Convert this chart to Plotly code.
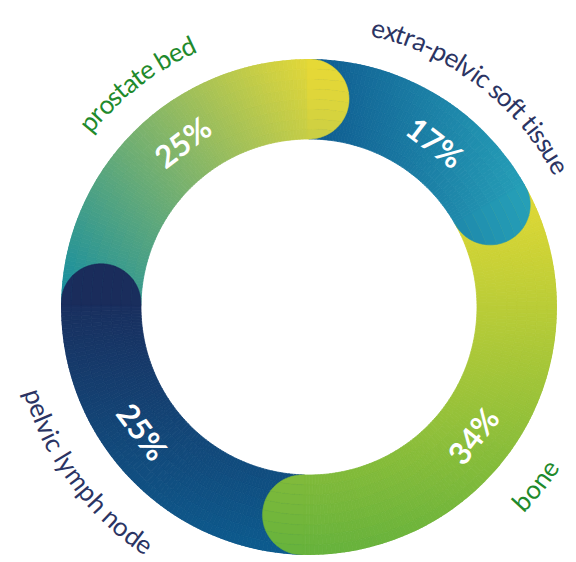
import math
import numpy as np
import plotly.graph_objects as go

# ---- data -------------------------------------------------------------
categories = ["extra-pelvic soft tissue", "bone", "pelvic lymph node", "prostate bed"]
shares = [17, 34, 25, 25]
pct_labels = [f"{v}%" for v in shares]

# ---- styling ----------------------------------------------------------
grad_start = ["#0f5a90", "#e2d935", "#1b2857", "#168ea0"]
grad_end = ["#26a0b8", "#66b23c", "#0d5b8e", "#ecdb33"]
grad_dir = [0, 90, 90, -40]          # gradient direction, degrees (screen space, y down)
label_colors = ["#2b3463", "#1f8a2c", "#2b3463", "#1f8a2c"]

W, H = 576, 562
CX, CY = 309, 307                     # ring centre in pixels
R_OUT, R_IN = 248, 168
R_MID = (R_OUT + R_IN) / 2
RING = R_OUT - R_IN
RHO = RING / 2                        # radius of the rounded slice ends
N_BANDS = 8
STEP = 1.0                            # angular resolution of the gradient cells
LABEL_SHIFT = 7.0                     # labels sit a little past the slice middle
R_TXT = 288
TXT_SIZE = 26
TRACKING = 1.0
PCT_SIZE = 31

# approximate Lato Regular advance widths (em)
ADV = {"a": .49, "b": .55, "c": .455, "d": .55, "e": .515, "f": .315, "h": .55,
       "i": .235, "l": .235, "m": .82, "n": .55, "o": .555, "p": .545, "r": .365,
       "s": .405, "t": .345, "u": .55, "v": .5, "x": .485, "y": .5, "-": .335,
       " ": .22}


def hex_rgb(h):
    h = h.lstrip("#")
    return np.array([int(h[i:i + 2], 16) for i in (0, 2, 4)], float)


def mix(c0, c1, t):
    t = min(max(t, 0.0), 1.0)
    c = hex_rgb(c0) * (1 - t) + hex_rgb(c1) * t
    return "rgb({:.0f},{:.0f},{:.0f})".format(*c)


def px(a_deg, r):
    a = math.radians(a_deg)
    return CX + r * math.sin(a), CY - r * math.cos(a)


def paper(a_deg, r):
    x, y = px(a_deg, r)
    return x / W, 1 - y / H


def cap_point(a1, psi):
    """Point on the rounded end centred at (R_MID, a1); returns (r, theta)."""
    a = math.radians(a1)
    ur = (math.sin(a), math.cos(a))
    ut = (math.cos(a), -math.sin(a))
    cx_, cy_ = R_MID * ur[0], R_MID * ur[1]
    x = cx_ + RHO * (math.cos(psi) * ur[0] + math.sin(psi) * ut[0])
    y = cy_ + RHO * (math.cos(psi) * ur[1] + math.sin(psi) * ut[1])
    th = math.degrees(math.atan2(x, y))
    th = a1 + ((th - a1 + 180) % 360 - 180)   # keep theta next to a1
    return math.hypot(x, y), th


def psi_at(r):
    c = (r * r - R_MID ** 2 - RHO ** 2) / (2 * R_MID * RHO)
    return math.acos(min(max(c, -1.0), 1.0))


def phi_at(r):
    c = (R_MID ** 2 + r * r - RHO ** 2) / (2 * R_MID * r)
    return math.degrees(math.acos(min(max(c, -1.0), 1.0)))


total = sum(shares)
edges = np.concatenate([[0], np.cumsum(shares)]) / total * 360.0
band_w = RING / N_BANDS

fig = go.Figure()
cap_traces = []

for i, name in enumerate(categories):
    a0, a1 = edges[i], edges[i + 1]
    n = max(int(round((a1 - a0) / STEP)), 1)
    dth = (a1 - a0) / n
    thetas = a0 + dth * (np.arange(n) + 0.5)
    d = math.radians(grad_dir[i])
    ux, uy = math.cos(d), math.sin(d)

    def proj_of(th, r):
        x, y = px(th, r)
        return x * ux + y * uy

    th_all, base_all, proj = [], [], []
    for k in range(N_BANDS):
        rb = R_IN + k * band_w
        for th in thetas:
            th_all.append(th)
            base_all.append(rb)
            proj.append(proj_of(th, rb + band_w / 2))
    cap_p = proj_of(a1, R_MID)
    pmin = min(min(proj), cap_p - RHO)
    pmax = max(max(proj), cap_p + RHO)

    def tcol(p):
        return mix(grad_start[i], grad_end[i], (p - pmin) / (pmax - pmin))

    cols = [tcol(p) for p in proj]
    fig.add_trace(go.Barpolar(
        theta=th_all, r=[band_w] * len(th_all), base=base_all,
        width=[dth] * len(th_all),
        marker=dict(color=cols, line=dict(color=cols, width=0.8)),
        name=name, hoverinfo="skip", showlegend=False,
    ))

    # rounded end of the slice, split into the same radial bands
    for k in range(N_BANDS):
        r_lo = R_IN + k * band_w
        r_hi = r_lo + band_w
        p_hi, p_lo = psi_at(r_hi), psi_at(r_lo)
        back = a1 - 0.4
        rr, tt = [], []
        _, t_hi_end = cap_point(a1, p_hi)
        for a in np.linspace(back, t_hi_end, 8):
            rr.append(r_hi)
            tt.append(a)
        for ps in np.linspace(p_hi, p_lo, 14):
            r_, t_ = cap_point(a1, ps)
            rr.append(r_)
            tt.append(t_)
        _, t_lo_end = cap_point(a1, p_lo)
        for a in np.linspace(t_lo_end, back, 8):
            rr.append(r_lo)
            tt.append(a)
        rr.append(rr[0])
        tt.append(tt[0])
        rm = (r_lo + r_hi) / 2
        c = tcol(proj_of(a1 + phi_at(rm) / 2, rm))
        cap_traces.append(go.Scatterpolar(
            r=rr, theta=tt, mode="lines", fill="toself", fillcolor=c,
            line=dict(color=c, width=0.6), hoverinfo="skip", showlegend=False,
        ))

for tr in cap_traces:
    fig.add_trace(tr)

annotations = []
for i, name in enumerate(categories):
    mid = ((edges[i] + edges[i + 1]) / 2 + LABEL_SHIFT) % 360
    top = mid < 90 or mid > 270

    # percentage, written along the ring
    rot = ((mid + 90) % 180) - 90
    x, y = paper(mid, R_MID)
    annotations.append(dict(x=x, y=y, xref="paper", yref="paper", text=pct_labels[i],
                            showarrow=False, textangle=rot, xanchor="center",
                            yanchor="middle",
                            font=dict(family="Lato", size=PCT_SIZE, color="white",
                                      weight="bold")))

    # category name, bent around the outside of the ring
    widths = [ADV.get(ch, .5) * TXT_SIZE * TRACKING for ch in name]
    pos = -sum(widths) / 2
    for ch, w in zip(name, widths):
        s = pos + w / 2
        pos += w
        if ch == " ":
            continue
        off = math.degrees(s / R_TXT)
        a = mid + off if top else mid - off
        r_ang = a if top else a - 180
        r_ang = ((r_ang + 180) % 360) - 180
        x, y = paper(a, R_TXT)
        annotations.append(dict(x=x, y=y, xref="paper", yref="paper", text=ch,
                                showarrow=False, textangle=r_ang, xanchor="center",
                                yanchor="middle",
                                font=dict(family="Lato", size=TXT_SIZE,
                                          color=label_colors[i])))

fig.update_layout(
    width=W, height=H,
    margin=dict(l=0, r=0, t=0, b=0),
    paper_bgcolor="white", plot_bgcolor="white",
    showlegend=False,
    annotations=annotations,
    polar=dict(
        domain=dict(x=[(CX - R_OUT) / W, (CX + R_OUT) / W],
                    y=[(H - CY - R_OUT) / H, (H - CY + R_OUT) / H]),
        bgcolor="white",
        barmode="overlay", bargap=0,
        radialaxis=dict(range=[0, R_OUT], visible=False),
        angularaxis=dict(visible=False, rotation=90, direction="clockwise"),
    ),
)

fig.write_html("out.html")
